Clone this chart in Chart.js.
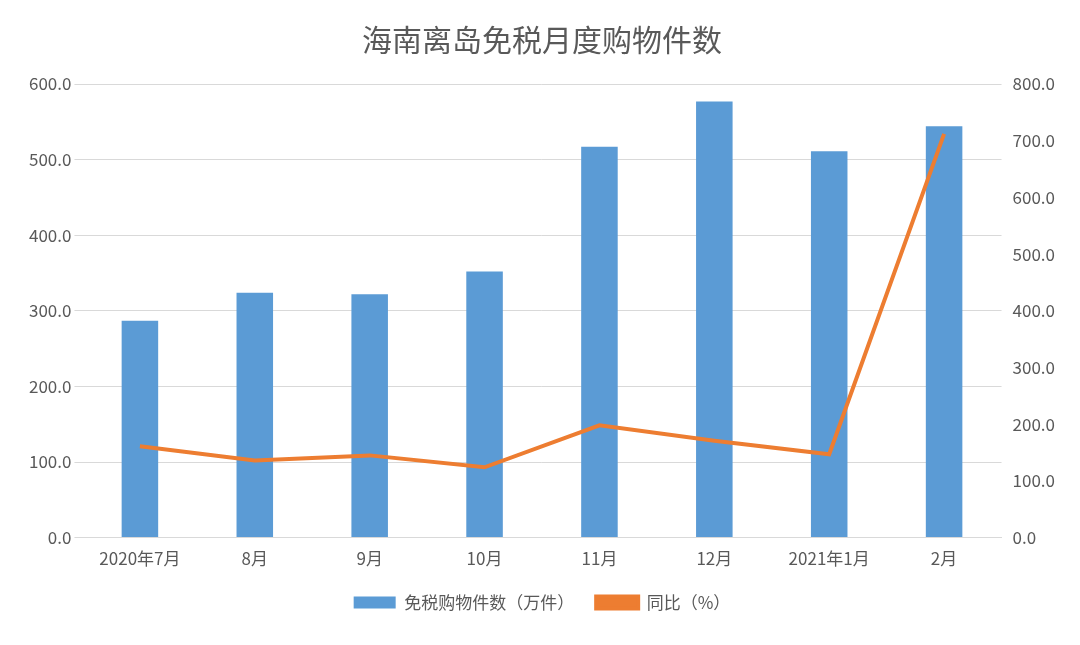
<!DOCTYPE html>
<html><head><meta charset="utf-8">
<script src="https://cdn.jsdelivr.net/npm/chart.js@4"></script>
<style>body{margin:0;background:#fff}#w{width:1080px;height:645px}</style>
</head><body><div id="w"><canvas id="c"></canvas></div>
<script>
const categories=["2020年7月","8月","9月","10月","11月","12月","2021年1月","2月"];
const purchases=[287,324,322,352,517,577,511,544];
const yoy=[161,136,145,124,198,171,147,712];
const F='"Noto Sans CJK SC","Noto Sans",sans-serif';
new Chart(document.getElementById('c'),{
 data:{labels:categories,datasets:[
  {type:'line',label:'同比（%）',data:yoy,yAxisID:'y2',borderColor:'#ED7D31',backgroundColor:'#ED7D31',borderWidth:4,pointRadius:0,tension:0,order:0},
  {type:'bar',label:'免税购物件数（万件）',data:purchases,yAxisID:'y',backgroundColor:'#5B9BD5',categoryPercentage:0.6,barPercentage:0.53,order:1}
 ]},
 options:{responsive:true,maintainAspectRatio:false,animation:false,
  layout:{padding:{left:26,right:22,top:12,bottom:24}},
  plugins:{title:{display:true,text:'海南离岛免税月度购物件数',color:'#595959',font:{family:F,size:30,weight:'normal'},padding:{top:10,bottom:26}},
   legend:{position:'bottom',reverse:true,labels:{color:'#595959',font:{family:F,size:17},boxWidth:42,boxHeight:12,padding:22}}},
  scales:{
   x:{grid:{display:false},border:{color:'#d9d9d9'},ticks:{color:'#595959',font:{family:F,size:17}}},
   y:{min:0,max:600,ticks:{stepSize:100,color:'#595959',font:{family:F,size:17},callback:v=>v.toFixed(1)},grid:{color:'#d9d9d9'},border:{display:false}},
   y2:{position:'right',min:0,max:800,ticks:{stepSize:100,color:'#595959',font:{family:F,size:17},callback:v=>v.toFixed(1)},grid:{display:false},border:{display:false}}
  }}
});
</script></body></html>
